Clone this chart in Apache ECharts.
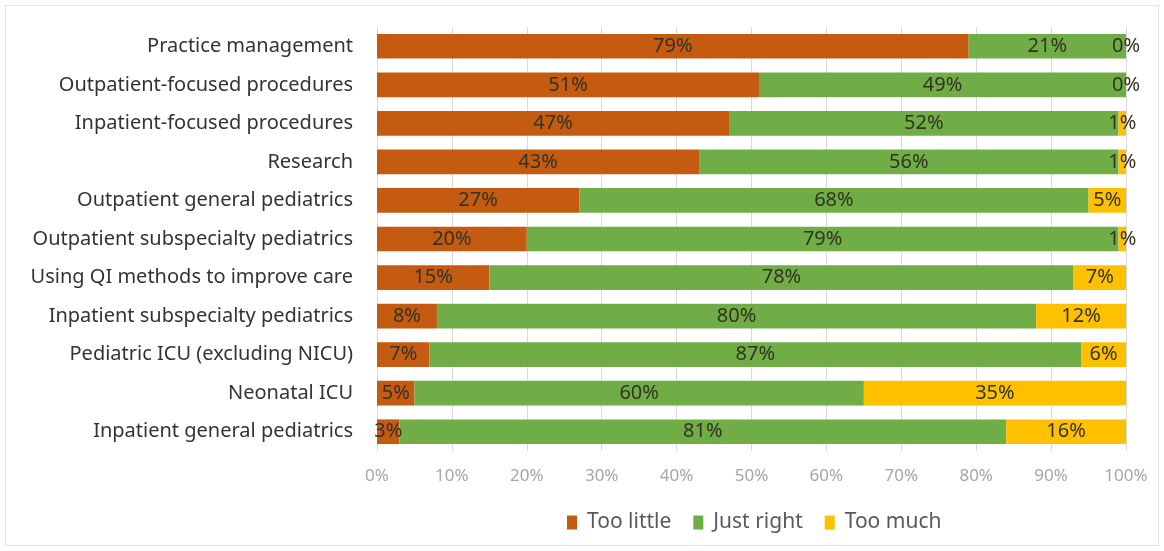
<!DOCTYPE html>
<html>
<head>
<meta charset="utf-8">
<script src="https://cdn.jsdelivr.net/npm/echarts@6/dist/echarts.min.js"></script>
<style>
html,body{margin:0;padding:0;background:#fff;}
#frame{position:absolute;left:5px;top:5px;width:1152px;height:539px;border:1px solid #e3e3e3;}
#chart{position:absolute;left:0;top:0;width:1164px;height:551px;}
</style>
</head>
<body>
<div id="frame"></div>
<div id="chart"></div>
<script>
const categories = [
  "Practice management",
  "Outpatient-focused procedures",
  "Inpatient-focused procedures",
  "Research",
  "Outpatient general pediatrics",
  "Outpatient subspecialty pediatrics",
  "Using QI methods to improve care",
  "Inpatient subspecialty pediatrics",
  "Pediatric ICU (excluding NICU)",
  "Neonatal ICU",
  "Inpatient general pediatrics"
];
const tooLittle = [79, 51, 47, 43, 27, 20, 15, 8, 7, 5, 3];
const justRight = [21, 49, 52, 56, 68, 79, 78, 80, 87, 60, 81];
const tooMuch   = [0, 0, 1, 1, 5, 1, 7, 12, 6, 35, 16];
const seriesNames = ["Too little", "Just right", "Too much"];
const colors = ["#C55A11", "#70AD47", "#FFC000"];

const chart = echarts.init(document.getElementById('chart'));
const labelCfg = {
  show: true,
  position: 'inside',
  formatter: p => p.value + '%',
  color: '#33331f',
  fontSize: 20,
  fontFamily: 'Noto Sans'
};
const datasets = [tooLittle, justRight, tooMuch];
chart.setOption({
  animation: false,
  grid: {left: 377, right: 38, top: 27, bottom: 100, containLabel: false},
  legend: {
    data: seriesNames,
    top: 507,
    left: 562,
    itemWidth: 10,
    itemHeight: 14,
    itemGap: 22,
    textStyle: {color: '#595959', fontSize: 21, fontFamily: 'Noto Sans', padding: [0, 0, 0, 5]},
    icon: 'rect'
  },
  xAxis: {
    type: 'value',
    min: 0, max: 100, interval: 10,
    axisLabel: {formatter: '{value}%', color: '#a6a6a6', fontSize: 17, margin: 17, fontFamily: 'Noto Sans'},
    axisLine: {show: false},
    axisTick: {show: false},
    splitLine: {show: true, lineStyle: {color: '#d9d9d9', width: 1}}
  },
  yAxis: {
    type: 'category',
    inverse: true,
    data: categories,
    axisLine: {show: false},
    axisTick: {show: false},
    axisLabel: {color: '#333333', fontSize: 20, margin: 24, fontFamily: 'Noto Sans'}
  },
  series: datasets.map((d, i) => ({
    name: seriesNames[i],
    type: 'bar',
    stack: 'total',
    data: d,
    barWidth: '64%',
    itemStyle: {color: colors[i]},
    label: Object.assign({}, labelCfg),
    labelLayout: {hideOverlap: false}
  }))
});
</script>
</body>
</html>
